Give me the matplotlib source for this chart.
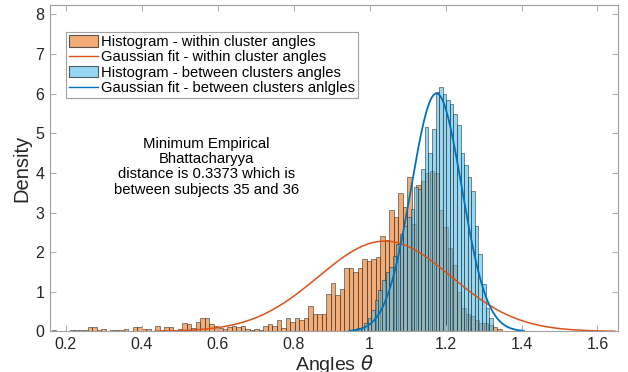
import numpy as np
import matplotlib
matplotlib.use('Agg')
import matplotlib.pyplot as plt
from matplotlib.patches import Patch
from matplotlib.lines import Line2D

plt.rcParams['font.family'] = ['Liberation Sans', 'DejaVu Sans']

# within cluster angles histogram (density), 100 bins
within_start = 0.1631
within_width = 0.011844
within_density = [
    0.04, 0, 0, 0, 0.03, 0.03, 0.03, 0.03, 0.1, 0.1,
    0.03, 0.07, 0, 0.03, 0.03, 0.03, 0.07, 0, 0.1, 0.1,
    0.07, 0.07, 0.02, 0.13, 0.03, 0.1, 0.1, 0.03, 0.07, 0.22,
    0.18, 0.08, 0.25, 0.35, 0.35, 0.19, 0.14, 0.09, 0.07, 0.11,
    0.14, 0.11, 0.14, 0.07, 0.03, 0.07, 0.03, 0.14, 0.19, 0.14,
    0.28, 0.09, 0.34, 0.23, 0.34, 0.28, 0.34, 0.65, 0.45, 0.45,
    0.45, 0.95, 1.21, 0.93, 1.06, 1.59, 1.59, 1.49, 1.59, 1.84,
    1.79, 1.82, 1.88, 2.4, 2.3, 3.07, 2.9, 3.5, 3.15, 3.9,
    2.7, 3.7, 3.8, 4.0, 4.05, 4.0, 3.06, 2.64, 2.1, 1.68,
    1.0, 0.6, 0.45, 0.4, 0.28, 0.2, 0.2, 0.15, 0.1, 0.05,
]

# between clusters angles histogram (density), 40 bins
between_start = 0.948
between_width = 0.0094
between_density = [
    0.03, 0.05, 0.08, 0.1, 0.2, 0.35, 0.55, 0.8, 1.05, 1.3,
    1.5, 1.62, 1.9, 2.2, 2.45, 2.65, 2.9, 3.1, 3.65, 3.6,
    4.1, 5.15, 4.5, 5.1, 6.05, 6.17, 6.0, 5.85, 5.75, 5.5,
    5.2, 4.5, 4.2, 3.9, 3.55, 2.65, 1.95, 1.2, 0.6, 0.35,
]

# gaussian fits (mean, std, plotted range)
within_mu, within_sigma = 1.04, 0.175
within_range = (0.435, 1.645)
between_mu, between_sigma = 1.176, 0.0664
between_range = (0.946, 1.406)

legend_labels = ['Histogram - within cluster angles',
                 'Gaussian fit - within cluster angles',
                 'Histogram - between clusters angles',
                 'Gaussian fit - between clusters anlgles']
note = ('Minimum Empirical\nBhattacharyya\n'
        'distance is 0.3373 which is\nbetween subjects 35 and 36')

orange_face = (236/255, 122/255, 34/255, 0.62)
blue_face = (77/255, 190/255, 238/255, 0.6)
edge = (0.15, 0.15, 0.15, 0.75)
orange_line = '#D95319'
blue_line = '#0072BD'


def gauss(x, mu, s):
    return np.exp(-0.5 * ((x - mu) / s) ** 2) / (s * np.sqrt(2 * np.pi))


fig = plt.figure(figsize=(6.28, 3.72), dpi=100)
ax = fig.add_axes([0.0796, 0.1091, 0.9044, 0.8775])

w_left = within_start + within_width * np.arange(len(within_density))
ax.bar(w_left, within_density, width=within_width, align='edge',
       facecolor=orange_face, edgecolor=edge, linewidth=0.5)
xw = np.linspace(within_range[0], within_range[1], 300)
ax.plot(xw, gauss(xw, within_mu, within_sigma), color=orange_line, lw=1.1)

b_left = between_start + between_width * np.arange(len(between_density))
ax.bar(b_left, between_density, width=between_width, align='edge',
       facecolor=blue_face, edgecolor=edge, linewidth=0.5)
xb = np.linspace(between_range[0], between_range[1], 300)
ax.plot(xb, gauss(xb, between_mu, between_sigma), color=blue_line, lw=1.3)

ax.set_xlim(0.158, 1.654)
ax.set_ylim(0, 8.24)
ax.set_xticks(np.arange(0.2, 1.61, 0.2))
ax.set_xticklabels(['0.2', '0.4', '0.6', '0.8', '1', '1.2', '1.4', '1.6'])
ax.set_yticks(range(0, 9))
ax.tick_params(direction='in', length=4, color='#b0b0b0', labelsize=11.5,
               labelcolor='#262626', top=True, right=True, pad=4)
for s in ax.spines.values():
    s.set_color('#a0a0a0')
    s.set_linewidth(0.8)

ax.set_xlabel(r'Angles $\theta$', fontsize=14, color='#262626', labelpad=1)
ax.set_ylabel('Density', fontsize=14.5, color='#262626', labelpad=3)

ax.text(0.276, 0.504, note, transform=ax.transAxes, ha='center', va='center',
        multialignment='center', fontsize=10.7, linespacing=1.1)

handles = [Patch(facecolor=orange_face, edgecolor=edge, linewidth=0.8),
           Line2D([], [], color=orange_line, lw=1),
           Patch(facecolor=blue_face, edgecolor=edge, linewidth=0.8),
           Line2D([], [], color=blue_line, lw=1)]
leg = ax.legend(handles, legend_labels, loc='upper left',
                bbox_to_anchor=(0.028, 0.917), borderaxespad=0, fontsize=10.6,
                fancybox=False, framealpha=1, edgecolor='#a0a0a0',
                handlelength=2.0, handleheight=0.8, handletextpad=0.2,
                labelspacing=0.1, borderpad=0.2)
leg.get_frame().set_linewidth(0.8)

fig.savefig('out.png', dpi=100)
